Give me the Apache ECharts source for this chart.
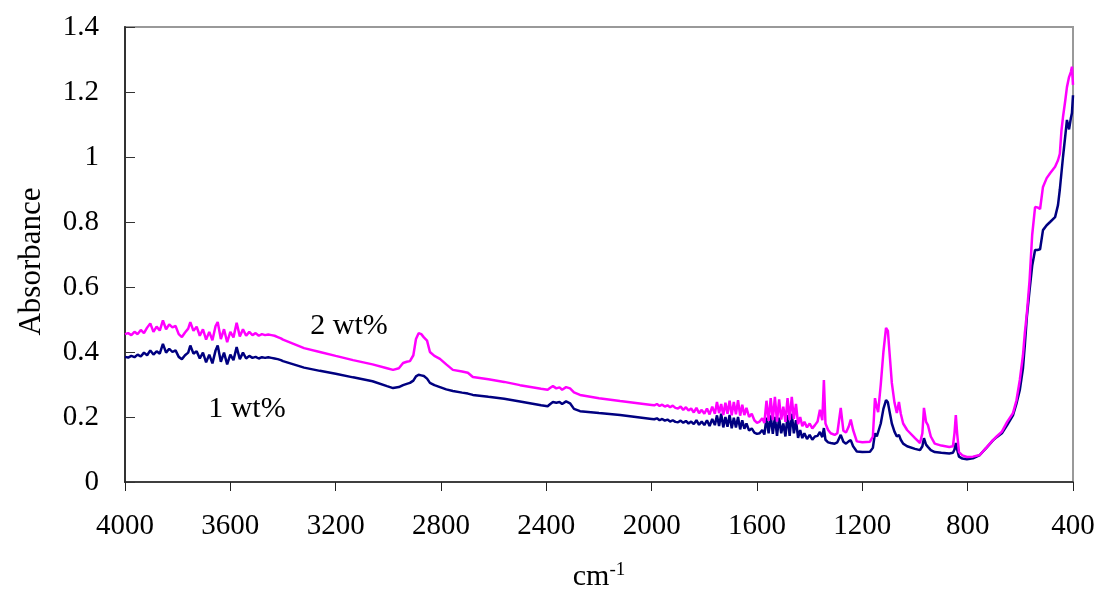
<!DOCTYPE html>
<html>
<head>
<meta charset="utf-8">
<script src="https://cdn.jsdelivr.net/npm/echarts@6/dist/echarts.min.js"></script>
<style>
  html, body { margin: 0; padding: 0; background: #fff; }
  #chart { width: 1102px; height: 592px; }
</style>
</head>
<body>
<div id="chart"></div>
<script>
// FTIR absorbance spectra, wavenumber in cm-1 (shared grid per region)
// Region A: 4000-3400, noisy O-H / water-vapour band
const wnA = [4000,3988,3976,3964,3952,3940,3928,3916,3904,3892,3880,3868,3856,3844,3832,3820,3808,3796,3784,3772,3760,
             3752,3740,3728,3716,3704,3692,3680,3668,3656,
             3648,3636,3624,3612,3600,3588,3576,3564,3552,3540,3528,3516,3504,3492,3480,3468,3456,3444,3432,3420,3408,3400];
const wt2A = [0.455,0.458,0.452,0.462,0.455,0.468,0.458,0.475,0.488,0.462,0.478,0.466,0.497,0.470,0.485,0.476,0.480,0.455,0.446,0.460,0.472,
              0.492,0.465,0.478,0.450,0.470,0.438,0.462,0.436,0.480,
              0.492,0.440,0.470,0.430,0.462,0.445,0.490,0.448,0.470,0.450,0.462,0.452,0.458,0.450,0.455,0.452,0.454,0.452,0.450,0.446,0.442,0.438];
const wt1A = [0.385,0.383,0.388,0.384,0.392,0.386,0.398,0.390,0.405,0.392,0.402,0.395,0.425,0.398,0.410,0.400,0.405,0.385,0.378,0.390,0.398,
              0.420,0.395,0.402,0.380,0.398,0.368,0.392,0.365,0.405,
              0.420,0.370,0.398,0.362,0.392,0.375,0.415,0.378,0.398,0.380,0.388,0.382,0.385,0.380,0.384,0.382,0.384,0.382,0.380,0.378,0.375,0.372];

// Region B: 3400-2000, C-H stretch and CO2 doublet
const wnB = [3360,3320,3260,3200,3134,3060,3005,2982,2960,2944,2930,2918,2905,2895,2885,2875,2865,2853,2842,2825,2804,2780,2755,2720,
             2698,2679,2620,2560,2500,2420,2395,2385,2375,2362,2350,2340,2325,2310,2295,2272,2200,2120,2060,2000];
const wt2B = [0.425,0.412,0.400,0.388,0.375,0.362,0.350,0.345,0.350,0.366,0.370,0.372,0.390,0.440,0.458,0.455,0.445,0.435,0.400,0.388,0.379,0.362,0.345,0.340,
              0.336,0.323,0.316,0.308,0.298,0.287,0.284,0.290,0.295,0.288,0.291,0.284,0.292,0.288,0.276,0.268,0.258,0.249,0.243,0.237];
const wt1B = [0.362,0.352,0.342,0.333,0.322,0.310,0.295,0.289,0.292,0.298,0.302,0.305,0.312,0.325,0.330,0.328,0.326,0.318,0.305,0.298,0.292,0.285,0.280,0.275,
              0.272,0.268,0.262,0.256,0.248,0.236,0.233,0.240,0.246,0.244,0.246,0.240,0.248,0.242,0.225,0.218,0.212,0.206,0.200,0.194];

// Region C: 2000-1380, noisy water-vapour bending band
const wnC = [1990,1980,1970,1960,1950,1940,1930,1920,1910,1900,1890,1880,1870,1860,1850,1840,1830,1820,1810,1800,1790,1780,1770,1760,
             1752,1744,1736,1728,1720,1712,1704,1696,1688,1680,1672,1664,1656,1648,1640,
             1630,1620,1610,1600,1590,1580,
             1572,1564,1556,1548,1540,1532,1524,1516,1508,1500,1492,1484,1476,1468,1460,1452,1444,
             1436,1428,
             1420,1410,1400,1390,1380];
const wt2C = [0.236,0.240,0.234,0.238,0.232,0.236,0.230,0.235,0.228,0.226,0.232,0.222,0.230,0.220,0.226,0.214,0.228,0.212,0.222,0.210,0.226,0.208,0.232,0.210,
              0.246,0.212,0.240,0.206,0.244,0.210,0.250,0.205,0.246,0.208,0.252,0.204,0.238,0.206,0.228,
              0.200,0.210,0.190,0.182,0.186,0.196,
              0.182,0.250,0.188,0.258,0.190,0.262,0.186,0.254,0.192,0.232,0.185,0.258,0.190,0.262,0.194,0.240,0.178,
              0.200,0.172,
              0.185,0.168,0.180,0.165,0.175];
const wt1C = [0.193,0.196,0.190,0.194,0.189,0.192,0.186,0.190,0.185,0.184,0.189,0.182,0.188,0.180,0.186,0.178,0.190,0.176,0.186,0.175,0.190,0.172,0.194,0.175,
              0.205,0.172,0.210,0.168,0.200,0.170,0.206,0.165,0.198,0.168,0.200,0.162,0.190,0.164,0.180,
              0.158,0.165,0.152,0.148,0.150,0.160,
              0.146,0.198,0.150,0.205,0.148,0.200,0.142,0.198,0.150,0.180,0.140,0.206,0.142,0.210,0.150,0.190,0.136,
              0.160,0.135,
              0.150,0.132,0.145,0.130,0.140];

// Region D: 1370-400, fingerprint bands and low-wavenumber rise
const wnD = [1370,1361,1352,1346,1340,1330,1320,1305,1295,1282,
             1272,1262,1252,1244,1235,1221,1200,1171,1160,1152,
             1145,1140,1130,1120,1110,1103,1095,1088,1078,1069,
             1061,1054,1045,1030,1000,981,972,966,958,951,
             940,925,900,870,856,850,845,840,833,820,
             803,780,754,730,704,690,670,650,628,615,
             602,590,583,575,565,555,544,535,525,514,
             500,487,468,457,450,444,438,430,423,415,
             408,404,400];
const wt2D = [0.186,0.222,0.190,0.314,0.180,0.160,0.150,0.145,0.150,0.228,
              0.158,0.152,0.170,0.192,0.160,0.125,0.122,0.124,0.140,0.258,
              0.230,0.215,0.300,0.400,0.474,0.465,0.380,0.305,0.245,0.212,
              0.246,0.210,0.180,0.160,0.135,0.120,0.150,0.228,0.185,0.175,
              0.140,0.118,0.112,0.108,0.110,0.150,0.206,0.150,0.092,0.082,
              0.077,0.078,0.083,0.105,0.129,0.140,0.155,0.185,0.212,0.250,
              0.314,0.390,0.458,0.520,0.620,0.760,0.846,0.845,0.840,0.908,
              0.935,0.950,0.970,0.990,1.010,1.080,1.123,1.170,1.215,1.246,
              1.262,1.278,1.222];
const wt1D = [0.142,0.154,0.138,0.166,0.130,0.122,0.120,0.118,0.122,0.145,
              0.124,0.118,0.125,0.129,0.110,0.094,0.092,0.093,0.105,0.150,
              0.140,0.140,0.180,0.225,0.252,0.245,0.210,0.180,0.155,0.140,
              0.145,0.130,0.118,0.110,0.102,0.098,0.110,0.135,0.115,0.108,
              0.098,0.092,0.090,0.088,0.090,0.100,0.120,0.100,0.078,0.072,
              0.070,0.073,0.083,0.104,0.128,0.138,0.150,0.175,0.205,0.240,
              0.283,0.350,0.420,0.510,0.590,0.665,0.714,0.714,0.716,0.775,
              0.790,0.800,0.815,0.852,0.900,0.950,1.000,1.060,1.114,1.085,
              1.120,1.135,1.190];

const seriesNames = ['1 wt%', '2 wt%'];
const seriesColors = ['#000080', '#ff00ff'];

const wavenumber = [].concat(wnA, wnB, wnC, wnD);
const abs1 = [].concat(wt1A, wt1B, wt1C, wt1D);
const abs2 = [].concat(wt2A, wt2B, wt2C, wt2D);

// Curve label anchors in data space [cm-1, absorbance]
const labelAnchors = [[3537, 0.225], [3149, 0.48]];

const FONT = '"Liberation Serif", "Times New Roman", serif';

const chart = echarts.init(document.getElementById('chart'), null, { renderer: 'canvas' });

const option = {
  animation: false,
  backgroundColor: '#ffffff',
  grid: {
    left: 125, right: 29, top: 27, bottom: 110,
    outerBoundsMode: 'none',
    show: true, borderColor: '#999999', borderWidth: 2, backgroundColor: 'transparent'
  },
  xAxis: {
    type: 'value',
    inverse: true,
    min: 400, max: 4000, interval: 400,
    name: '{a|cm}{b|-1}',
    nameLocation: 'middle',
    nameGap: 79,
    nameTextStyle: {
      rich: {
        a: { fontFamily: FONT, fontSize: 30, color: '#000' },
        b: { fontFamily: FONT, fontSize: 19, color: '#000', verticalAlign: 'top', padding: [0, 0, 14, 0] }
      }
    },
    axisLine: { onZero: false, lineStyle: { color: '#222', width: 1.5 } },
    axisTick: { inside: false, length: 9, lineStyle: { color: '#222', width: 1 } },
    axisLabel: {
      margin: 30, fontFamily: FONT, fontSize: 29, color: '#000',
      formatter: v => String(v)
    },
    splitLine: { show: false }
  },
  yAxis: {
    type: 'value',
    min: 0, max: 1.4, interval: 0.2,
    name: 'Absorbance',
    nameLocation: 'middle',
    nameGap: 78,
    nameTextStyle: { fontFamily: FONT, fontSize: 31, color: '#000', padding: [0, 14, 0, 0] },
    axisLine: { show: true, lineStyle: { color: '#333', width: 2 } },
    axisTick: { show: true, inside: true, length: 10, lineStyle: { color: '#333', width: 1 } },
    axisLabel: {
      margin: 26, fontFamily: FONT, fontSize: 29, color: '#000',
      formatter: v => String(+v.toFixed(1))
    },
    splitLine: { show: false }
  },
  series: [
    {
      name: seriesNames[0], type: 'line', showSymbol: false, symbol: 'none',
      data: wavenumber.map((w, i) => [w, abs1[i]]),
      lineStyle: { color: seriesColors[0], width: 2.5 }, z: 2
    },
    {
      name: seriesNames[1], type: 'line', showSymbol: false, symbol: 'none',
      data: wavenumber.map((w, i) => [w, abs2[i]]),
      lineStyle: { color: seriesColors[1], width: 2.5 }, z: 3
    }
  ]
};

chart.setOption(option);

// Place the curve labels through the axis scales
const labels = labelAnchors.map((p, i) => {
  const px = chart.convertToPixel({ gridIndex: 0 }, p);
  return {
    type: 'text', x: px[0], y: px[1], z: 10,
    style: {
      text: seriesNames[i], fontFamily: FONT, fontSize: 30, fill: '#000',
      align: 'center', verticalAlign: 'middle'
    }
  };
});
chart.setOption({ graphic: labels });
</script>
</body>
</html>
